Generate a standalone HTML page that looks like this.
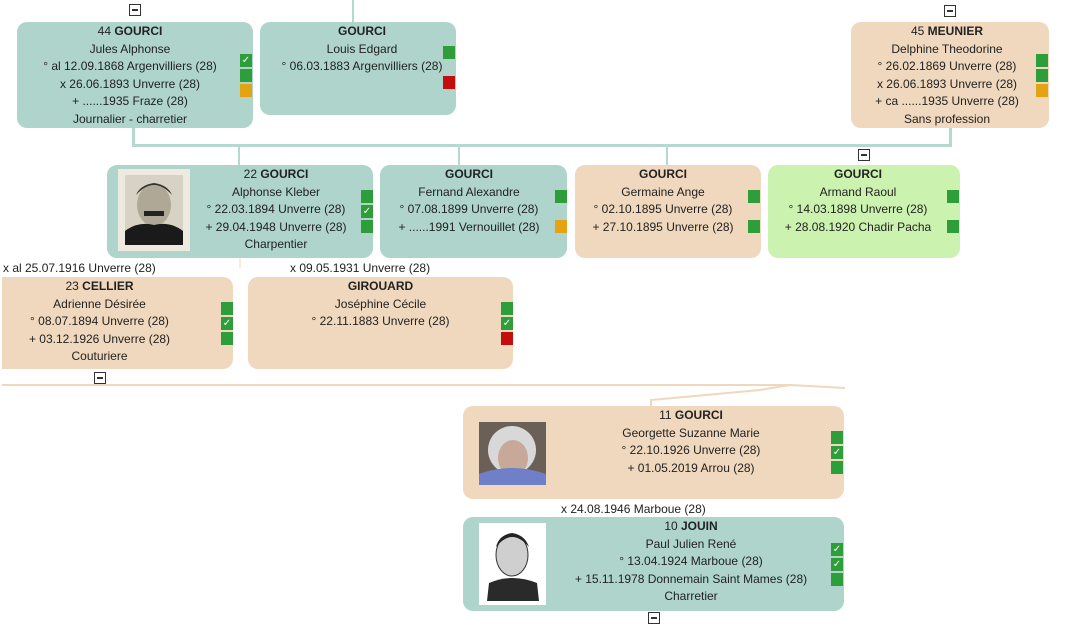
<!DOCTYPE html>
<html><head><meta charset="utf-8"><style>
body{margin:0;width:1075px;height:626px;background:#fff;position:relative;overflow:hidden;font-family:"Liberation Sans",sans-serif;font-size:12px;color:#222}
.b{position:absolute;border-radius:10px}
.t{background:#aed4cb}.p{background:#efd8bd}.g{background:#ccf2b0}
.tx{position:absolute;text-align:center;line-height:17.5px;white-space:nowrap}
.s{position:absolute;width:12px;height:13px;background:#2e9e3a;color:#fff;font-size:10px;line-height:13px;text-align:center}
.o{background:#e3a312}.r{background:#c40d0d}
.l{position:absolute;background:#b5d8d0}
.lp{position:absolute;background:#efd8bd}
.m{position:absolute;width:10px;height:10px;border:1px solid #333;background:#fff}
.m:after{content:"";position:absolute;left:2px;top:4px;width:6px;height:2px;background:#333}
.lab{position:absolute;white-space:nowrap}
.ph{position:absolute}
</style></head><body>
<!-- connectors -->
<div class="l" style="left:132px;top:128px;width:3px;height:18px"></div>
<div class="l" style="left:132px;top:144px;width:820px;height:3px"></div>
<div class="l" style="left:949px;top:128px;width:3px;height:18px"></div>
<div class="l" style="left:238px;top:146px;width:2px;height:19px"></div>
<div class="l" style="left:458px;top:146px;width:2px;height:19px"></div>
<div class="l" style="left:666px;top:146px;width:2px;height:19px"></div>
<div class="l" style="left:352px;top:0;width:2px;height:22px"></div>
<div class="lp" style="left:2px;top:384px;width:790px;height:2px"></div>
<svg style="position:absolute;left:0;top:0" width="1075" height="626"><path d="M651 407 V400 L760 390 L790 385 L845 388" stroke="#efd8bd" stroke-width="2" fill="none"/><path d="M240 258 V268" stroke="#efd8bd" stroke-width="1"/></svg>
<div class="m" style="left:129px;top:4px"></div>
<div class="m" style="left:944px;top:5px"></div>
<div class="m" style="left:858px;top:149px"></div>
<div class="m" style="left:94px;top:372px"></div>

<!-- 44 -->
<div class="b t" style="left:17px;top:22px;width:236px;height:106px"></div>
<div class="tx" style="left:17px;width:226px;top:23px"><b style="font-weight:normal">44 </b><b>GOURCI</b><br>Jules Alphonse<br>° al 12.09.1868 Argenvilliers (28)<br>x 26.06.1893 Unverre (28)<br>+ ......1935 Fraze (28)<br>Journalier - charretier</div>
<div class="s" style="left:240px;top:54px">✓</div><div class="s" style="left:240px;top:69px"></div><div class="s o" style="left:240px;top:84px"></div>
<!-- Louis -->
<div class="b t" style="left:260px;top:22px;width:196px;height:93px"></div>
<div class="tx" style="left:260px;width:204px;top:23px"><b>GOURCI</b><br>Louis Edgard<br>° 06.03.1883 Argenvilliers (28)</div>
<div class="s" style="left:443px;top:46px"></div><div class="s r" style="left:443px;top:76px"></div>
<!-- Meunier -->
<div class="b p" style="left:851px;top:22px;width:198px;height:106px"></div>
<div class="tx" style="left:851px;width:192px;top:23px">45 <b>MEUNIER</b><br>Delphine Theodorine<br>° 26.02.1869 Unverre (28)<br>x 26.06.1893 Unverre (28)<br>+ ca ......1935 Unverre (28)<br>Sans profession</div>
<div class="s" style="left:1036px;top:54px"></div><div class="s" style="left:1036px;top:69px"></div><div class="s o" style="left:1036px;top:84px"></div>

<!-- 22 -->
<div class="b t" style="left:107px;top:165px;width:266px;height:93px"></div>
<svg class="ph" style="left:118px;top:169px" width="72" height="82"><rect width="72" height="82" fill="#efeae0"/><rect x="7" y="6" width="58" height="70" fill="#d8d2c4"/><ellipse cx="36" cy="36" rx="17" ry="21" fill="#b0a896"/><path d="M18 26 Q36 6 54 26 Q50 16 36 14 Q22 16 18 26Z" fill="#333"/><rect x="26" y="42" width="20" height="5" fill="#222"/><path d="M7 76 L7 62 Q20 52 36 56 Q52 52 65 62 L65 76Z" fill="#1a1a1a"/></svg>
<div class="tx" style="left:190px;width:172px;top:166px">22 <b>GOURCI</b><br>Alphonse Kleber<br>° 22.03.1894 Unverre (28)<br>+ 29.04.1948 Unverre (28)<br>Charpentier</div>
<div class="s" style="left:361px;top:190px"></div><div class="s" style="left:361px;top:205px">✓</div><div class="s" style="left:361px;top:220px"></div>
<!-- Fernand -->
<div class="b t" style="left:380px;top:165px;width:187px;height:93px"></div>
<div class="tx" style="left:380px;width:178px;top:166px"><b>GOURCI</b><br>Fernand Alexandre<br>° 07.08.1899 Unverre (28)<br>+ ......1991 Vernouillet (28)</div>
<div class="s" style="left:555px;top:190px"></div><div class="s o" style="left:555px;top:220px"></div>
<!-- Germaine -->
<div class="b p" style="left:575px;top:165px;width:186px;height:93px"></div>
<div class="tx" style="left:575px;width:176px;top:166px"><b>GOURCI</b><br>Germaine Ange<br>° 02.10.1895 Unverre (28)<br>+ 27.10.1895 Unverre (28)</div>
<div class="s" style="left:748px;top:190px"></div><div class="s" style="left:748px;top:220px"></div>
<!-- Armand -->
<div class="b g" style="left:768px;top:165px;width:192px;height:93px"></div>
<div class="tx" style="left:768px;width:180px;top:166px;overflow:hidden"><b>GOURCI</b><br>Armand Raoul<br>° 14.03.1898 Unverre (28)<br>+ 28.08.1920 Chadir Pacha</div>
<div class="s" style="left:947px;top:190px"></div><div class="s" style="left:947px;top:220px"></div>

<div class="lab" style="left:3px;top:261px">x al 25.07.1916 Unverre (28)</div>
<div class="lab" style="left:290px;top:261px">x 09.05.1931 Unverre (28)</div>
<!-- Cellier -->
<div class="b p" style="left:2px;top:277px;width:231px;height:92px;border-top-left-radius:0;border-bottom-left-radius:0"></div>
<div class="tx" style="left:2px;width:195px;top:278px">23 <b>CELLIER</b><br>Adrienne Désirée<br>° 08.07.1894 Unverre (28)<br>+ 03.12.1926 Unverre (28)<br>Couturiere</div>
<div class="s" style="left:221px;top:302px"></div><div class="s" style="left:221px;top:317px">✓</div><div class="s" style="left:221px;top:332px"></div>
<!-- Girouard -->
<div class="b p" style="left:248px;top:277px;width:265px;height:92px"></div>
<div class="tx" style="left:248px;width:265px;top:278px"><b>GIROUARD</b><br>Joséphine Cécile<br>° 22.11.1883 Unverre (28)</div>
<div class="s" style="left:501px;top:302px"></div><div class="s" style="left:501px;top:317px">✓</div><div class="s r" style="left:501px;top:332px"></div>

<!-- 11 -->
<div class="b p" style="left:463px;top:406px;width:381px;height:93px"></div>
<svg class="ph" style="left:479px;top:422px" width="67" height="63"><rect width="67" height="63" fill="#6a6058"/><ellipse cx="33" cy="28" rx="24" ry="24" fill="#d8d8d8"/><ellipse cx="34" cy="36" rx="15" ry="18" fill="#c8a898"/><path d="M0 63 L0 52 Q33 40 67 52 L67 63Z" fill="#6f7fc8"/></svg>
<div class="tx" style="left:546px;width:290px;top:407px">11 <b>GOURCI</b><br>Georgette Suzanne Marie<br>° 22.10.1926 Unverre (28)<br>+ 01.05.2019 Arrou (28)</div>
<div class="s" style="left:831px;top:431px"></div><div class="s" style="left:831px;top:446px">✓</div><div class="s" style="left:831px;top:461px"></div>
<div class="lab" style="left:561px;top:502px">x 24.08.1946 Marboue (28)</div>
<!-- 10 -->
<div class="b t" style="left:463px;top:517px;width:381px;height:94px"></div>
<svg class="ph" style="left:479px;top:523px" width="67" height="82"><rect width="67" height="82" fill="#fff"/><ellipse cx="33" cy="32" rx="16" ry="21" fill="#cfcfcf" stroke="#333"/><path d="M17 24 Q33 4 50 24 Q46 12 33 10 Q20 12 17 24Z" fill="#222"/><path d="M8 78 L10 60 Q33 50 58 60 L60 78Z" fill="#2a2a2a"/></svg>
<div class="tx" style="left:546px;width:290px;top:518px">10 <b>JOUIN</b><br>Paul Julien René<br>° 13.04.1924 Marboue (28)<br>+ 15.11.1978 Donnemain Saint Mames (28)<br>Charretier</div>
<div class="s" style="left:831px;top:543px">✓</div><div class="s" style="left:831px;top:558px">✓</div><div class="s" style="left:831px;top:573px"></div>
<div class="m" style="left:648px;top:612px"></div>
</body></html>
